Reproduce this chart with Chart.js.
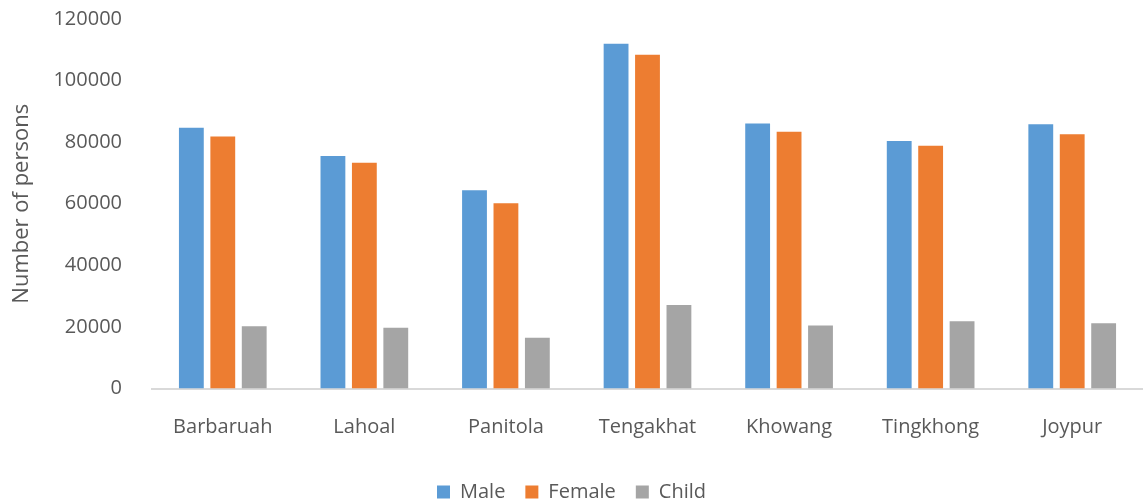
<!DOCTYPE html>
<html>
<head>
<meta charset="utf-8">
<script src="https://cdn.jsdelivr.net/npm/chart.js@4/dist/chart.umd.min.js"></script>
<style>
  html, body { margin: 0; padding: 0; background: #fff; overflow: hidden; }
  #wrap { width: 1143px; height: 527px; position: absolute; left: 0; top: -15px; }
</style>
</head>
<body>
<div id="wrap"><canvas id="chart"></canvas></div>
<script>
const places = ["Barbaruah", "Lahoal", "Panitola", "Tengakhat", "Khowang", "Tingkhong", "Joypur"];
const male   = [84700, 75500, 64400, 112000, 86100, 80400, 85800];
const female = [81800, 73300, 60200, 108400, 83400, 78800, 82600];
const child  = [20200, 19700, 16500, 27100, 20500, 21800, 21200];

const textColor = "#595959";
const fontFamily = "'Open Sans', 'Liberation Sans', sans-serif";

new Chart(document.getElementById("chart"), {
  type: 'bar',
  data: {
    labels: places,
    datasets: [
      { label: "Male", data: male, backgroundColor: "#5B9BD5" },
      { label: "Female", data: female, backgroundColor: "#ED7D31" },
      { label: "Child", data: child, backgroundColor: "#A5A5A5" }
    ]
  },
  options: {
    responsive: true,
    maintainAspectRatio: false,
    animation: false,
    datasets: { bar: { categoryPercentage: 0.666, barPercentage: 0.79 } },
    layout: { padding: { top: 8, right: 0, left: 0, bottom: 0 } },
    plugins: {
      legend: {
        position: 'bottom',
        labels: {
          color: textColor,
          font: { family: fontFamily, size: 20 },
          boxWidth: 13,
          boxHeight: 13,
          padding: 20
        }
      },
      tooltip: { enabled: false }
    },
    scales: {
      y: {
        min: 0,
        max: 120000,
        ticks: {
          stepSize: 20000,
          color: textColor,
          font: { family: fontFamily, size: 20 },
          padding: 22,
          callback: (v) => String(v)
        },
        grid: { display: false },
        border: { display: false },
        title: { display: true, text: "Number of persons", color: textColor, font: { family: fontFamily, size: 22 }, padding: { top: 9, bottom: 8 } },
        afterFit: (s) => { s.width = 152; }
      },
      x: {
        ticks: { color: textColor, font: { family: fontFamily, size: 20 }, padding: 19 },
        grid: { display: false },
        border: { display: true, color: "#D9D9D9", width: 2 },
        afterFit: (s) => { s.height = 73.5; }
      }
    }
  }
});
</script>
</body>
</html>
